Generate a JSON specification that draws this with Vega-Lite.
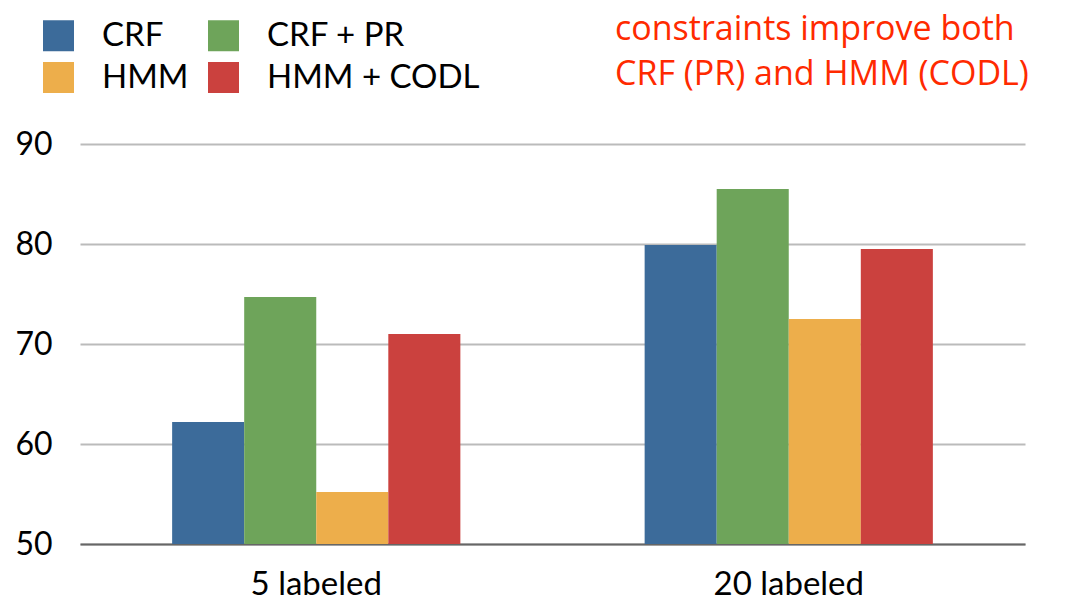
{
  "$schema": "https://vega.github.io/schema/vega-lite/v6.json",
  "width": 945,
  "height": 400,
  "autosize": "none",
  "padding": {"left": 80, "top": 144, "right": 50, "bottom": 59},
  "background": "white",
  "title": {
    "text": ["constraints improve both", "CRF (PR) and HMM (CODL)"],
    "anchor": "start",
    "frame": "group",
    "dx": 535,
    "dy": 73,
    "offset": 0,
    "font": "Open Sans",
    "fontSize": 34,
    "fontWeight": "normal",
    "color": "#FF2A00",
    "lineHeight": 45
  },
  "data": {
    "values": [
      {"group": "5 labeled", "method": "CRF", "value": 62.2},
      {"group": "5 labeled", "method": "CRF + PR", "value": 74.7},
      {"group": "5 labeled", "method": "HMM", "value": 55.2},
      {"group": "5 labeled", "method": "HMM + CODL", "value": 71.0},
      {"group": "20 labeled", "method": "CRF", "value": 79.9},
      {"group": "20 labeled", "method": "CRF + PR", "value": 85.5},
      {"group": "20 labeled", "method": "HMM", "value": 72.5},
      {"group": "20 labeled", "method": "HMM + CODL", "value": 79.5}
    ]
  },
  "mark": {"type": "bar", "clip": true},
  "encoding": {
    "x": {
      "field": "group",
      "type": "nominal",
      "sort": ["5 labeled", "20 labeled"],
      "scale": {"paddingInner": 0.39, "paddingOuter": 0.195},
      "axis": {
        "title": null,
        "labelAngle": 0,
        "labelFont": "Lato",
        "labelFontSize": 33,
        "labelColor": "black",
        "labelPadding": 24,
        "ticks": false,
        "domain": true,
        "domainColor": "#666666",
        "domainWidth": 2,
        "grid": false
      }
    },
    "xOffset": {
      "field": "method",
      "type": "nominal",
      "sort": ["CRF", "CRF + PR", "HMM", "HMM + CODL"],
      "scale": {"paddingInner": 0, "paddingOuter": 0}
    },
    "y": {
      "field": "value",
      "type": "quantitative",
      "scale": {"domain": [50, 90], "zero": false, "nice": false},
      "axis": {
        "title": null,
        "values": [50, 60, 70, 80, 90],
        "labelFont": "Lato",
        "labelFontSize": 32,
        "labelColor": "black",
        "labelPadding": 28,
        "ticks": false,
        "domain": false,
        "grid": true,
        "gridColor": "#BBBBBB",
        "gridWidth": 2
      }
    },
    "color": {
      "field": "method",
      "type": "nominal",
      "scale": {
        "domain": ["CRF", "HMM", "CRF + PR", "HMM + CODL"],
        "range": ["#3C6B9A", "#EDAE4B", "#6EA45A", "#CB413E"]
      },
      "legend": {
        "title": null,
        "orient": "none",
        "legendX": -38,
        "legendY": -125,
        "columns": 2,
        "columnPadding": 18,
        "rowPadding": 8,
        "symbolType": "square",
        "symbolSize": 961,
        "symbolStrokeWidth": 0,
        "symbolOpacity": 1,
        "labelFont": "Lato",
        "labelFontSize": 33,
        "labelColor": "black",
        "labelOffset": 27,
        "labelLimit": 400
      }
    }
  },
  "config": {"view": {"stroke": null}}
}
